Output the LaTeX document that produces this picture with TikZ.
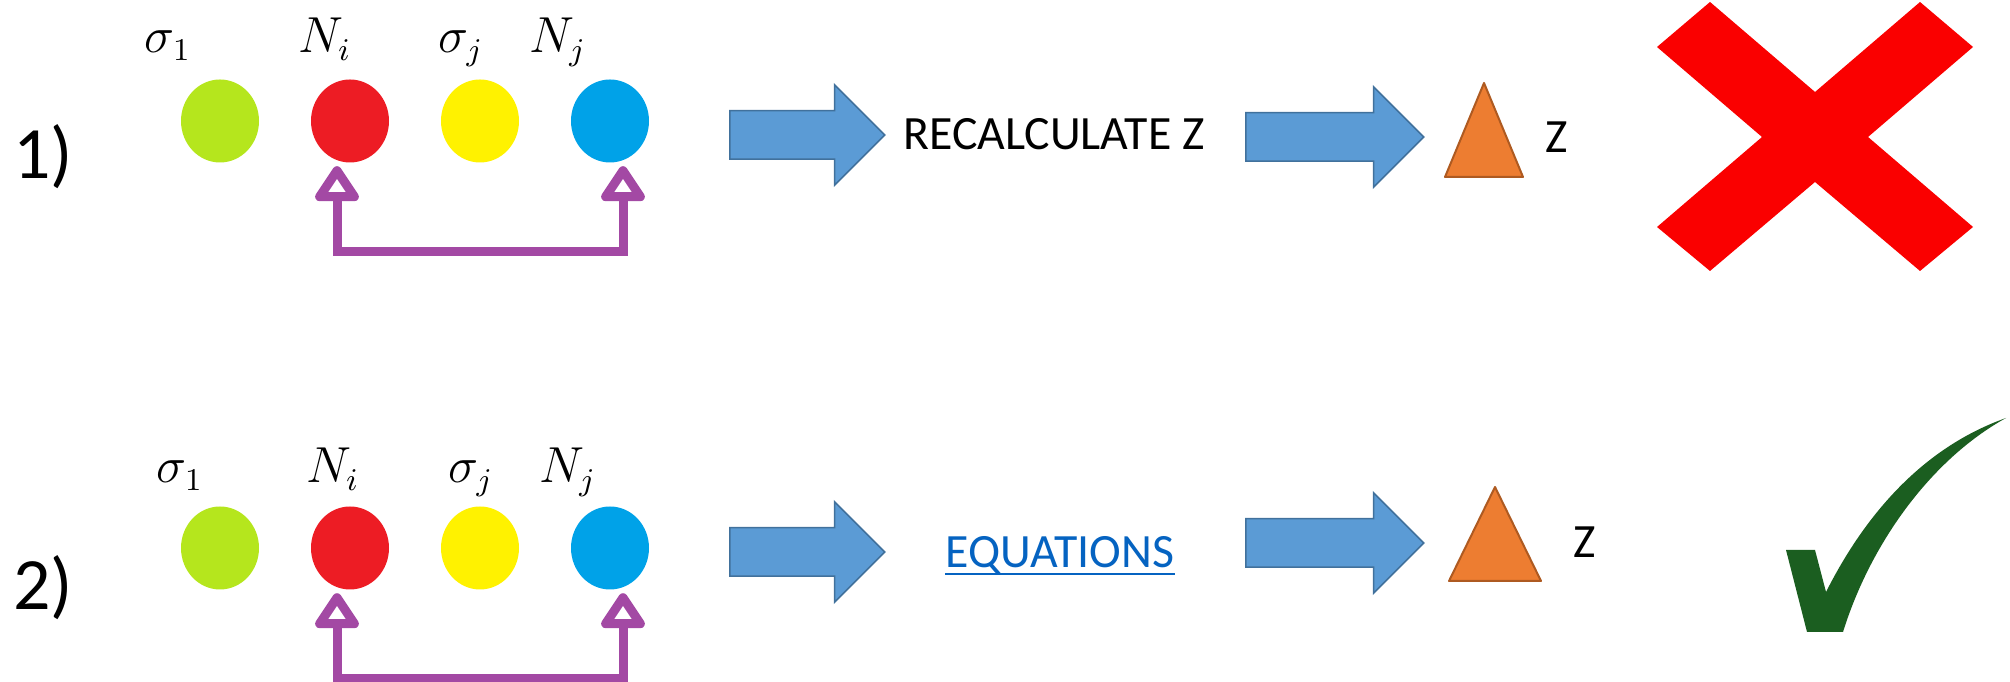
\documentclass[tikz,border=0pt]{standalone}
\usepackage{fontspec}
\setmainfont{Carlito}
\usetikzlibrary{positioning,shapes.geometric,shapes.arrows,arrows.meta}

\definecolor{paintlime}{RGB}{181,230,29}
\definecolor{paintred}{RGB}{237,28,36}
\definecolor{paintyellow}{RGB}{255,242,0}
\definecolor{paintblue}{RGB}{0,162,232}
\definecolor{paintpurple}{RGB}{163,73,164}
\definecolor{arrfill}{RGB}{91,155,213}
\definecolor{arrline}{RGB}{65,113,156}
\definecolor{trifill}{RGB}{237,125,49}
\definecolor{triline}{RGB}{174,90,33}
\definecolor{linkblue}{RGB}{5,99,193}
\definecolor{crossred}{RGB}{250,0,0}
\definecolor{tickgreen}{RGB}{27,94,32}

\begin{document}
\begin{tikzpicture}[
		x=0.1mm, y=-0.1mm,
		node distance={13mm},
		ball/.style = {ellipse, minimum width=7.8mm, minimum height=8.3mm, inner sep=0pt},
		sym/.style = {anchor=base, inner sep=0pt, font=\fontsize{13.5}{16}\selectfont},
		num/.style = {anchor=base, inner sep=0pt, font=\fontsize{21}{24}\selectfont},
		word/.style = {anchor=base, inner sep=0pt, font=\fontsize{13.6}{16}\selectfont},
		blockarr/.style = {single arrow, draw=arrline, fill=arrfill, line width=0.15mm,
			inner xsep=0pt, inner ysep=2.35mm, single arrow head extend=2.6mm,
			single arrow tip angle=90, anchor=tail},
		link/.style = {draw=paintpurple, line width=0.9mm, shorten <=0.3mm, shorten >=0.3mm,
			{Triangle[open, round, length=3.9mm, width=4.9mm]}-{Triangle[open, round, length=3.9mm, width=4.9mm]}},
		tri/.style = {fill=trifill, draw=triline, line width=0.2mm, line join=round}
	]
	\useasboundingbox (0,0) rectangle (2010,682);
	\node[num] (one) at (43,179) {1)};
	\node[ball, fill=paintlime] (s1a) at (220,121) {};
	\node[ball, fill=paintred] (nia) [right of=s1a] {};
	\node[ball, fill=paintyellow] (sja) [right of=nia] {};
	\node[ball, fill=paintblue] (nja) [right of=sja] {};
	\node[sym] (ls1a) at (168,53) {$\sigma_1$};
	\node[sym] (lnia) at (325,53) {$N_i$};
	\node[sym] (lsja) at (461,53) {$\sigma_j$};
	\node[sym] (lnja) at (558,53) {$N_j$};
	\draw[link] ([xshift=-1.3mm]nia.south) -- ++(0,88.5) -| ([xshift=1.3mm]nja.south);
	\node[blockarr, minimum height=15.5mm] (a1) at (729,135) {};
	\node[word] (calc) at (1054,150) {RECALCULATE Z};
	\node[blockarr, minimum height=17.8mm] (a2) at (1245,137) {};
	\draw[tri] (1484,83) -- (1523,177) -- (1445,177) -- cycle;
	\node[word] (za) at (1557,153) {Z};
	\fill[crossred] (1657,47) -- (1710,2) -- (1815,92) -- (1920,2) -- (1973,47) -- (1868,137)
		-- (1973,227) -- (1920,271) -- (1815,182) -- (1710,271) -- (1657,227) -- (1762,137) -- cycle;
	\node[num] (two) at (43,610) {2)};
	\node[ball, fill=paintlime] (s1b) at (220,548) {};
	\node[ball, fill=paintred] (nib) [right of=s1b] {};
	\node[ball, fill=paintyellow] (sjb) [right of=nib] {};
	\node[ball, fill=paintblue] (njb) [right of=sjb] {};
	\node[sym] (ls1b) at (180,483) {$\sigma_1$};
	\node[sym] (lnib) at (333,483) {$N_i$};
	\node[sym] (lsjb) at (471,483) {$\sigma_j$};
	\node[sym] (lnjb) at (568,483) {$N_j$};
	\draw[link] ([xshift=-1.3mm]nib.south) -- ++(0,88.5) -| ([xshift=1.3mm]njb.south);
	\node[blockarr, minimum height=15.5mm] (b1) at (729,552) {};
	\node[word, text=linkblue] (eqn) at (1060,568) {EQUATIONS};
	\draw[linkblue, line width=0.25mm] ([yshift=-0.6mm]eqn.base west) -- ([yshift=-0.6mm]eqn.base east);
	\node[blockarr, minimum height=17.8mm] (b2) at (1245,543) {};
	\draw[tri] (1495,487) -- (1541,581) -- (1449,581) -- cycle;
	\node[word] (zb) at (1585,558) {Z};
	\fill[tickgreen] (1786,550) -- (1815,550) -- (1826,592) .. controls (1870,505) and (1930,445) .. (2006,418)
		.. controls (1930,460) and (1870,545) .. (1843,632) -- (1807,632) -- cycle;
\end{tikzpicture}
\end{document}
